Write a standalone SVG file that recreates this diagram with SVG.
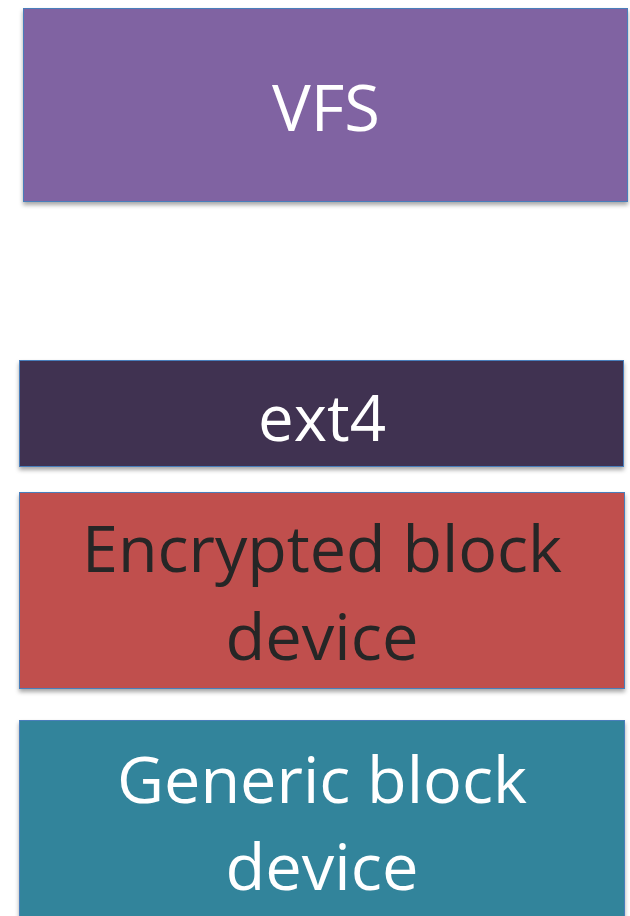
<svg xmlns="http://www.w3.org/2000/svg" width="630" height="916" viewBox="0 0 630 916">
<defs>
<filter id="sh" x="-5%" y="-10%" width="110%" height="125%">
<feDropShadow dx="0" dy="3" stdDeviation="2" flood-color="#000" flood-opacity="0.35"/>
</filter>
<style>
.box{stroke:#4a7ebb;stroke-width:1;filter:url(#sh)}
.t{font-family:"Open Sans","Liberation Sans",sans-serif;font-size:64px;text-anchor:middle;fill:#fff}
.dark{fill:#262626}
</style>
</defs>
<rect width="630" height="916" fill="#fff"/>
<g id="vfs">
<rect class="box" x="23.5" y="8.5" width="604" height="193" fill="#8064a2"/>
<text class="t" x="326" y="131" textLength="108" lengthAdjust="spacingAndGlyphs">VFS</text>
</g>
<g id="ext4">
<rect class="box" x="19.5" y="360.5" width="604" height="106" fill="#403151"/>
<text class="t" x="322" y="441" textLength="128" lengthAdjust="spacingAndGlyphs">ext4</text>
</g>
<g id="encrypted">
<rect class="box" x="19.5" y="492.5" width="605" height="196" fill="#c0504d"/>
<text class="t dark" x="322" y="572" textLength="480" lengthAdjust="spacingAndGlyphs">Encrypted block</text>
<text class="t dark" x="322" y="660" textLength="193" lengthAdjust="spacingAndGlyphs">device</text>
</g>
<g id="generic">
<rect class="box" x="19.5" y="720.5" width="605" height="210" fill="#31849b"/>
<text class="t" x="322" y="803" textLength="410" lengthAdjust="spacingAndGlyphs">Generic block</text>
<text class="t" x="322" y="890" textLength="193" lengthAdjust="spacingAndGlyphs">device</text>
</g>
<g id="connectors"/>
</svg>
